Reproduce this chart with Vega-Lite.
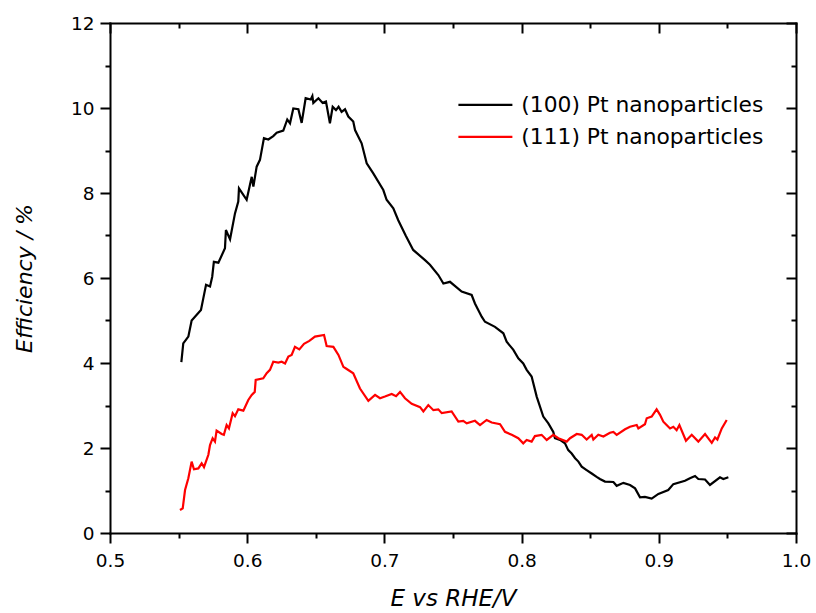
{
  "$schema": "https://vega.github.io/schema/vega-lite/v6.json",
  "width": 686,
  "height": 510,
  "autosize": "none",
  "padding": {"left": 110, "top": 23, "right": 20, "bottom": 80},
  "background": "white",
  "datasets": {
    "pts": [
      {"s":"(100) Pt nanoparticles","x":0.552,"y":4.02},{"s":"(100) Pt nanoparticles","x":0.5534,"y":4.46},{"s":"(100) Pt nanoparticles","x":0.5571,"y":4.62},{"s":"(100) Pt nanoparticles","x":0.5595,"y":5.0},{"s":"(100) Pt nanoparticles","x":0.5663,"y":5.25},{"s":"(100) Pt nanoparticles","x":0.568,"y":5.52},{"s":"(100) Pt nanoparticles","x":0.570,"y":5.84},{"s":"(100) Pt nanoparticles","x":0.5729,"y":5.80},{"s":"(100) Pt nanoparticles","x":0.5745,"y":6.03},{"s":"(100) Pt nanoparticles","x":0.5757,"y":6.38},{"s":"(100) Pt nanoparticles","x":0.579,"y":6.36},{"s":"(100) Pt nanoparticles","x":0.5838,"y":6.70},{"s":"(100) Pt nanoparticles","x":0.5845,"y":7.13},{"s":"(100) Pt nanoparticles","x":0.5875,"y":6.91},{"s":"(100) Pt nanoparticles","x":0.5911,"y":7.52},{"s":"(100) Pt nanoparticles","x":0.5935,"y":7.80},{"s":"(100) Pt nanoparticles","x":0.594,"y":8.11},{"s":"(100) Pt nanoparticles","x":0.5996,"y":7.84},{"s":"(100) Pt nanoparticles","x":0.6033,"y":8.38},{"s":"(100) Pt nanoparticles","x":0.6045,"y":8.15},{"s":"(100) Pt nanoparticles","x":0.6069,"y":8.62},{"s":"(100) Pt nanoparticles","x":0.6093,"y":8.78},{"s":"(100) Pt nanoparticles","x":0.6122,"y":9.29},{"s":"(100) Pt nanoparticles","x":0.6154,"y":9.26},{"s":"(100) Pt nanoparticles","x":0.619,"y":9.34},{"s":"(100) Pt nanoparticles","x":0.6215,"y":9.42},{"s":"(100) Pt nanoparticles","x":0.6263,"y":9.47},{"s":"(100) Pt nanoparticles","x":0.6292,"y":9.73},{"s":"(100) Pt nanoparticles","x":0.6312,"y":9.64},{"s":"(100) Pt nanoparticles","x":0.6336,"y":9.99},{"s":"(100) Pt nanoparticles","x":0.6373,"y":9.97},{"s":"(100) Pt nanoparticles","x":0.6397,"y":9.65},{"s":"(100) Pt nanoparticles","x":0.6426,"y":10.23},{"s":"(100) Pt nanoparticles","x":0.6463,"y":10.20},{"s":"(100) Pt nanoparticles","x":0.6475,"y":10.28},{"s":"(100) Pt nanoparticles","x":0.6482,"y":10.12},{"s":"(100) Pt nanoparticles","x":0.6519,"y":10.23},{"s":"(100) Pt nanoparticles","x":0.655,"y":10.12},{"s":"(100) Pt nanoparticles","x":0.6574,"y":10.15},{"s":"(100) Pt nanoparticles","x":0.6603,"y":9.64},{"s":"(100) Pt nanoparticles","x":0.6623,"y":10.03},{"s":"(100) Pt nanoparticles","x":0.6647,"y":9.95},{"s":"(100) Pt nanoparticles","x":0.6666,"y":10.03},{"s":"(100) Pt nanoparticles","x":0.6688,"y":9.91},{"s":"(100) Pt nanoparticles","x":0.6713,"y":9.97},{"s":"(100) Pt nanoparticles","x":0.6737,"y":9.80},{"s":"(100) Pt nanoparticles","x":0.6773,"y":9.68},{"s":"(100) Pt nanoparticles","x":0.6786,"y":9.48},{"s":"(100) Pt nanoparticles","x":0.6834,"y":9.17},{"s":"(100) Pt nanoparticles","x":0.6871,"y":8.70},{"s":"(100) Pt nanoparticles","x":0.6919,"y":8.46},{"s":"(100) Pt nanoparticles","x":0.6992,"y":8.07},{"s":"(100) Pt nanoparticles","x":0.7016,"y":7.84},{"s":"(100) Pt nanoparticles","x":0.7065,"y":7.64},{"s":"(100) Pt nanoparticles","x":0.7101,"y":7.36},{"s":"(100) Pt nanoparticles","x":0.7155,"y":7.0},{"s":"(100) Pt nanoparticles","x":0.721,"y":6.66},{"s":"(100) Pt nanoparticles","x":0.7296,"y":6.42},{"s":"(100) Pt nanoparticles","x":0.7332,"y":6.31},{"s":"(100) Pt nanoparticles","x":0.7393,"y":6.07},{"s":"(100) Pt nanoparticles","x":0.743,"y":5.87},{"s":"(100) Pt nanoparticles","x":0.7478,"y":5.91},{"s":"(100) Pt nanoparticles","x":0.7563,"y":5.68},{"s":"(100) Pt nanoparticles","x":0.7636,"y":5.60},{"s":"(100) Pt nanoparticles","x":0.766,"y":5.40},{"s":"(100) Pt nanoparticles","x":0.7709,"y":5.09},{"s":"(100) Pt nanoparticles","x":0.7733,"y":4.97},{"s":"(100) Pt nanoparticles","x":0.7806,"y":4.85},{"s":"(100) Pt nanoparticles","x":0.7867,"y":4.70},{"s":"(100) Pt nanoparticles","x":0.7891,"y":4.50},{"s":"(100) Pt nanoparticles","x":0.794,"y":4.31},{"s":"(100) Pt nanoparticles","x":0.7976,"y":4.11},{"s":"(100) Pt nanoparticles","x":0.8012,"y":3.99},{"s":"(100) Pt nanoparticles","x":0.8037,"y":3.84},{"s":"(100) Pt nanoparticles","x":0.8073,"y":3.68},{"s":"(100) Pt nanoparticles","x":0.811,"y":3.21},{"s":"(100) Pt nanoparticles","x":0.8158,"y":2.74},{"s":"(100) Pt nanoparticles","x":0.8195,"y":2.58},{"s":"(100) Pt nanoparticles","x":0.8231,"y":2.38},{"s":"(100) Pt nanoparticles","x":0.8243,"y":2.23},{"s":"(100) Pt nanoparticles","x":0.828,"y":2.19},{"s":"(100) Pt nanoparticles","x":0.8316,"y":2.11},{"s":"(100) Pt nanoparticles","x":0.834,"y":1.95},{"s":"(100) Pt nanoparticles","x":0.8365,"y":1.87},{"s":"(100) Pt nanoparticles","x":0.839,"y":1.76},{"s":"(100) Pt nanoparticles","x":0.8414,"y":1.68},{"s":"(100) Pt nanoparticles","x":0.8438,"y":1.56},{"s":"(100) Pt nanoparticles","x":0.8474,"y":1.48},{"s":"(100) Pt nanoparticles","x":0.8511,"y":1.40},{"s":"(100) Pt nanoparticles","x":0.8547,"y":1.32},{"s":"(100) Pt nanoparticles","x":0.8571,"y":1.27},{"s":"(100) Pt nanoparticles","x":0.8608,"y":1.21},{"s":"(100) Pt nanoparticles","x":0.8669,"y":1.20},{"s":"(100) Pt nanoparticles","x":0.8693,"y":1.11},{"s":"(100) Pt nanoparticles","x":0.8742,"y":1.18},{"s":"(100) Pt nanoparticles","x":0.879,"y":1.13},{"s":"(100) Pt nanoparticles","x":0.8827,"y":1.05},{"s":"(100) Pt nanoparticles","x":0.8863,"y":0.84},{"s":"(100) Pt nanoparticles","x":0.8899,"y":0.85},{"s":"(100) Pt nanoparticles","x":0.8948,"y":0.81},{"s":"(100) Pt nanoparticles","x":0.8997,"y":0.92},{"s":"(100) Pt nanoparticles","x":0.9069,"y":1.01},{"s":"(100) Pt nanoparticles","x":0.9106,"y":1.15},{"s":"(100) Pt nanoparticles","x":0.9191,"y":1.23},{"s":"(100) Pt nanoparticles","x":0.9227,"y":1.29},{"s":"(100) Pt nanoparticles","x":0.9264,"y":1.34},{"s":"(100) Pt nanoparticles","x":0.9288,"y":1.27},{"s":"(100) Pt nanoparticles","x":0.9337,"y":1.26},{"s":"(100) Pt nanoparticles","x":0.9373,"y":1.13},{"s":"(100) Pt nanoparticles","x":0.9446,"y":1.31},{"s":"(100) Pt nanoparticles","x":0.947,"y":1.27},{"s":"(100) Pt nanoparticles","x":0.9507,"y":1.31},
      {"s":"(111) Pt nanoparticles","x":0.551,"y":0.54},{"s":"(111) Pt nanoparticles","x":0.553,"y":0.58},{"s":"(111) Pt nanoparticles","x":0.5547,"y":1.01},{"s":"(111) Pt nanoparticles","x":0.5571,"y":1.29},{"s":"(111) Pt nanoparticles","x":0.5595,"y":1.68},{"s":"(111) Pt nanoparticles","x":0.5612,"y":1.50},{"s":"(111) Pt nanoparticles","x":0.5644,"y":1.52},{"s":"(111) Pt nanoparticles","x":0.5668,"y":1.64},{"s":"(111) Pt nanoparticles","x":0.5685,"y":1.55},{"s":"(111) Pt nanoparticles","x":0.5717,"y":1.84},{"s":"(111) Pt nanoparticles","x":0.5729,"y":2.07},{"s":"(111) Pt nanoparticles","x":0.5748,"y":2.23},{"s":"(111) Pt nanoparticles","x":0.5765,"y":2.15},{"s":"(111) Pt nanoparticles","x":0.5777,"y":2.41},{"s":"(111) Pt nanoparticles","x":0.5814,"y":2.33},{"s":"(111) Pt nanoparticles","x":0.583,"y":2.31},{"s":"(111) Pt nanoparticles","x":0.585,"y":2.54},{"s":"(111) Pt nanoparticles","x":0.5867,"y":2.46},{"s":"(111) Pt nanoparticles","x":0.5894,"y":2.82},{"s":"(111) Pt nanoparticles","x":0.5911,"y":2.75},{"s":"(111) Pt nanoparticles","x":0.5935,"y":2.91},{"s":"(111) Pt nanoparticles","x":0.5972,"y":2.88},{"s":"(111) Pt nanoparticles","x":0.6008,"y":3.13},{"s":"(111) Pt nanoparticles","x":0.6033,"y":3.25},{"s":"(111) Pt nanoparticles","x":0.6055,"y":3.32},{"s":"(111) Pt nanoparticles","x":0.6062,"y":3.60},{"s":"(111) Pt nanoparticles","x":0.6117,"y":3.64},{"s":"(111) Pt nanoparticles","x":0.6142,"y":3.76},{"s":"(111) Pt nanoparticles","x":0.6166,"y":3.84},{"s":"(111) Pt nanoparticles","x":0.619,"y":4.03},{"s":"(111) Pt nanoparticles","x":0.6227,"y":4.01},{"s":"(111) Pt nanoparticles","x":0.6251,"y":4.03},{"s":"(111) Pt nanoparticles","x":0.6276,"y":3.99},{"s":"(111) Pt nanoparticles","x":0.63,"y":4.15},{"s":"(111) Pt nanoparticles","x":0.6324,"y":4.19},{"s":"(111) Pt nanoparticles","x":0.6348,"y":4.38},{"s":"(111) Pt nanoparticles","x":0.638,"y":4.32},{"s":"(111) Pt nanoparticles","x":0.6414,"y":4.45},{"s":"(111) Pt nanoparticles","x":0.6453,"y":4.52},{"s":"(111) Pt nanoparticles","x":0.6494,"y":4.62},{"s":"(111) Pt nanoparticles","x":0.656,"y":4.66},{"s":"(111) Pt nanoparticles","x":0.6579,"y":4.40},{"s":"(111) Pt nanoparticles","x":0.6628,"y":4.38},{"s":"(111) Pt nanoparticles","x":0.6665,"y":4.19},{"s":"(111) Pt nanoparticles","x":0.6701,"y":3.91},{"s":"(111) Pt nanoparticles","x":0.672,"y":3.87},{"s":"(111) Pt nanoparticles","x":0.6773,"y":3.76},{"s":"(111) Pt nanoparticles","x":0.6822,"y":3.40},{"s":"(111) Pt nanoparticles","x":0.6883,"y":3.11},{"s":"(111) Pt nanoparticles","x":0.6932,"y":3.25},{"s":"(111) Pt nanoparticles","x":0.6968,"y":3.17},{"s":"(111) Pt nanoparticles","x":0.7004,"y":3.21},{"s":"(111) Pt nanoparticles","x":0.7053,"y":3.27},{"s":"(111) Pt nanoparticles","x":0.7085,"y":3.22},{"s":"(111) Pt nanoparticles","x":0.7114,"y":3.32},{"s":"(111) Pt nanoparticles","x":0.715,"y":3.17},{"s":"(111) Pt nanoparticles","x":0.7199,"y":3.04},{"s":"(111) Pt nanoparticles","x":0.726,"y":2.96},{"s":"(111) Pt nanoparticles","x":0.7284,"y":2.86},{"s":"(111) Pt nanoparticles","x":0.732,"y":3.01},{"s":"(111) Pt nanoparticles","x":0.7357,"y":2.89},{"s":"(111) Pt nanoparticles","x":0.7393,"y":2.91},{"s":"(111) Pt nanoparticles","x":0.7418,"y":2.82},{"s":"(111) Pt nanoparticles","x":0.749,"y":2.86},{"s":"(111) Pt nanoparticles","x":0.7539,"y":2.62},{"s":"(111) Pt nanoparticles","x":0.7575,"y":2.64},{"s":"(111) Pt nanoparticles","x":0.76,"y":2.58},{"s":"(111) Pt nanoparticles","x":0.766,"y":2.64},{"s":"(111) Pt nanoparticles","x":0.7697,"y":2.54},{"s":"(111) Pt nanoparticles","x":0.7745,"y":2.66},{"s":"(111) Pt nanoparticles","x":0.7782,"y":2.60},{"s":"(111) Pt nanoparticles","x":0.7843,"y":2.56},{"s":"(111) Pt nanoparticles","x":0.7879,"y":2.38},{"s":"(111) Pt nanoparticles","x":0.7928,"y":2.31},{"s":"(111) Pt nanoparticles","x":0.7976,"y":2.23},{"s":"(111) Pt nanoparticles","x":0.8012,"y":2.11},{"s":"(111) Pt nanoparticles","x":0.8037,"y":2.19},{"s":"(111) Pt nanoparticles","x":0.8073,"y":2.15},{"s":"(111) Pt nanoparticles","x":0.8097,"y":2.28},{"s":"(111) Pt nanoparticles","x":0.8146,"y":2.31},{"s":"(111) Pt nanoparticles","x":0.8183,"y":2.19},{"s":"(111) Pt nanoparticles","x":0.8231,"y":2.31},{"s":"(111) Pt nanoparticles","x":0.8268,"y":2.23},{"s":"(111) Pt nanoparticles","x":0.8329,"y":2.15},{"s":"(111) Pt nanoparticles","x":0.8353,"y":2.23},{"s":"(111) Pt nanoparticles","x":0.8402,"y":2.33},{"s":"(111) Pt nanoparticles","x":0.8438,"y":2.31},{"s":"(111) Pt nanoparticles","x":0.8474,"y":2.20},{"s":"(111) Pt nanoparticles","x":0.8511,"y":2.31},{"s":"(111) Pt nanoparticles","x":0.8523,"y":2.20},{"s":"(111) Pt nanoparticles","x":0.8559,"y":2.31},{"s":"(111) Pt nanoparticles","x":0.8596,"y":2.27},{"s":"(111) Pt nanoparticles","x":0.8644,"y":2.36},{"s":"(111) Pt nanoparticles","x":0.8669,"y":2.38},{"s":"(111) Pt nanoparticles","x":0.8693,"y":2.31},{"s":"(111) Pt nanoparticles","x":0.8754,"y":2.44},{"s":"(111) Pt nanoparticles","x":0.879,"y":2.50},{"s":"(111) Pt nanoparticles","x":0.8839,"y":2.54},{"s":"(111) Pt nanoparticles","x":0.8851,"y":2.46},{"s":"(111) Pt nanoparticles","x":0.8899,"y":2.56},{"s":"(111) Pt nanoparticles","x":0.8912,"y":2.70},{"s":"(111) Pt nanoparticles","x":0.8948,"y":2.74},{"s":"(111) Pt nanoparticles","x":0.8984,"y":2.91},{"s":"(111) Pt nanoparticles","x":0.9009,"y":2.78},{"s":"(111) Pt nanoparticles","x":0.9033,"y":2.62},{"s":"(111) Pt nanoparticles","x":0.9057,"y":2.54},{"s":"(111) Pt nanoparticles","x":0.9082,"y":2.46},{"s":"(111) Pt nanoparticles","x":0.9106,"y":2.50},{"s":"(111) Pt nanoparticles","x":0.913,"y":2.42},{"s":"(111) Pt nanoparticles","x":0.915,"y":2.54},{"s":"(111) Pt nanoparticles","x":0.9198,"y":2.17},{"s":"(111) Pt nanoparticles","x":0.924,"y":2.31},{"s":"(111) Pt nanoparticles","x":0.9288,"y":2.15},{"s":"(111) Pt nanoparticles","x":0.9337,"y":2.33},{"s":"(111) Pt nanoparticles","x":0.9386,"y":2.12},{"s":"(111) Pt nanoparticles","x":0.941,"y":2.25},{"s":"(111) Pt nanoparticles","x":0.9427,"y":2.20},{"s":"(111) Pt nanoparticles","x":0.9459,"y":2.46},{"s":"(111) Pt nanoparticles","x":0.9495,"y":2.66}
    ]
  },
  "data": {"name": "pts"},
  "layer": [
    {
      "mark": {"type": "line", "strokeWidth": 2.2, "clip": true},
      "encoding": {
        "x": {"field": "x", "type": "quantitative", "scale": {"domain": [0.5, 1.0], "nice": false, "zero": false},
          "axis": {"orient": "bottom", "values": [0.5, 0.6, 0.7, 0.8, 0.9, 1.0], "format": ".1f", "tickSize": 10, "labelPadding": 8, "labelFontSize": 18.5,
            "title": "E vs RHE/V", "titleFontStyle": "italic", "titleFontWeight": "normal", "titleFontSize": 23, "titleBaseline": "alphabetic", "titleY": 72}},
        "y": {"field": "y", "type": "quantitative", "scale": {"domain": [0, 12], "nice": false, "zero": false},
          "axis": {"orient": "left", "values": [0, 2, 4, 6, 8, 10, 12], "tickSize": 10, "labelPadding": 6, "labelFontSize": 18.5,
            "title": "Efficiency / %", "titleFontStyle": "italic", "titleFontWeight": "normal", "titleFontSize": 22, "titleBaseline": "alphabetic", "titleX": -79}},
        "color": {"field": "s", "type": "nominal",
          "scale": {"domain": ["(100) Pt nanoparticles", "(111) Pt nanoparticles"], "range": ["#000000", "#ff0000"]},
          "legend": {"title": null, "orient": "none", "legendX": 348, "legendY": 71, "padding": 0,
            "symbolType": "M-5,0H5", "symbolSize": 116.6, "symbolStrokeWidth": 2.2, "symbolOffset": 16.5,
            "labelOffset": 25, "labelFontSize": 21.8, "labelColor": "#000000", "rowPadding": 8.9, "labelLimit": 400}}
      }
    },
    {
      "mark": {"type": "line", "opacity": 0},
      "encoding": {
        "x": {"field": "x", "type": "quantitative", "axis": {"orient": "bottom", "values": [0.55, 0.65, 0.75, 0.85, 0.95], "tickSize": 5, "labels": false, "domain": false, "title": null}},
        "y": {"field": "y", "type": "quantitative", "axis": {"orient": "left", "values": [1, 3, 5, 7, 9, 11], "tickSize": 5, "labels": false, "domain": false, "title": null}},
        "detail": {"field": "s"}
      }
    },
    {
      "mark": {"type": "line", "opacity": 0},
      "encoding": {
        "x": {"field": "x", "type": "quantitative", "axis": {"orient": "top", "values": [0.5, 0.6, 0.7, 0.8, 0.9, 1.0], "tickSize": -10, "labels": false, "title": null}},
        "y": {"field": "y", "type": "quantitative", "axis": {"orient": "right", "values": [0, 2, 4, 6, 8, 10, 12], "tickSize": -10, "labels": false, "title": null}},
        "detail": {"field": "s"}
      }
    },
    {
      "mark": {"type": "line", "opacity": 0},
      "encoding": {
        "x": {"field": "x", "type": "quantitative", "axis": {"orient": "top", "values": [0.55, 0.65, 0.75, 0.85, 0.95], "tickSize": -5, "labels": false, "domain": false, "title": null}},
        "y": {"field": "y", "type": "quantitative", "axis": {"orient": "right", "values": [1, 3, 5, 7, 9, 11], "tickSize": -5, "labels": false, "domain": false, "title": null}},
        "detail": {"field": "s"}
      }
    }
  ],
  "resolve": {"axis": {"x": "independent", "y": "independent"}},
  "config": {
    "view": {"stroke": null},
    "font": "DejaVu Sans",
    "axis": {"grid": false, "domainColor": "#000000", "domainWidth": 2, "tickColor": "#000000", "tickWidth": 2,
      "labelColor": "#000000", "titleColor": "#000000", "labelFont": "DejaVu Sans", "titleFont": "DejaVu Sans",
      "labelFlush": false, "labelOverlap": false, "domainCap": "square"},
    "legend": {"labelFont": "DejaVu Sans"}
  }
}
